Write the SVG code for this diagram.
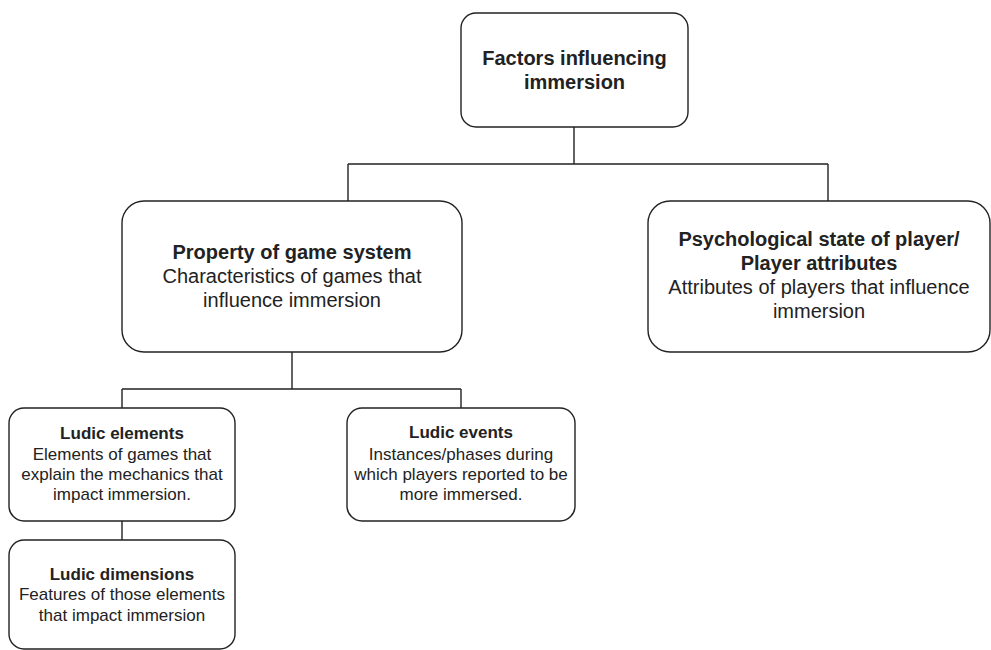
<svg xmlns="http://www.w3.org/2000/svg" width="991" height="650" viewBox="0 0 991 650">
<style>
.box{fill:#fff;stroke:#222;stroke-width:1.4}
.conn{fill:none;stroke:#222;stroke-width:1.4}
text{font-family:"Liberation Sans",Arial,sans-serif;fill:#222;text-anchor:middle}
.big{font-size:20px}
.small{font-size:17px}
.b{font-weight:bold}
</style>
<rect width="991" height="650" fill="#fff"/>
<g id="connectors">
<path class="conn" d="M574 127V164M348 164H828M348 164V201M828 164V201"/>
<path class="conn" d="M292 352V389M122 389H461M122 389V408M461 389V408"/>
<path class="conn" d="M122 521V540"/>
</g>
<g id="factors">
<rect class="box" x="461" y="13" width="227" height="114" rx="15"/>
<text class="big b" x="574.5" y="65">Factors influencing</text>
<text class="big b" x="574.5" y="89">immersion</text>
</g>
<g id="property">
<rect class="box" x="122" y="201" width="340" height="151" rx="22"/>
<text class="big b" x="292" y="259">Property of game system</text>
<text class="big" x="292" y="283">Characteristics of games that</text>
<text class="big" x="292" y="307">influence immersion</text>
</g>
<g id="psych">
<rect class="box" x="648" y="201" width="342" height="151" rx="22"/>
<text class="big b" x="819" y="246">Psychological state of player/</text>
<text class="big b" x="819" y="270">Player attributes</text>
<text class="big" x="819" y="294">Attributes of players that influence</text>
<text class="big" x="819" y="318">immersion</text>
</g>
<g id="ludic-elements">
<rect class="box" x="9" y="408" width="226" height="113" rx="15"/>
<text class="small b" x="122" y="439">Ludic elements</text>
<text class="small" x="122" y="460">Elements of games that</text>
<text class="small" x="122" y="480">explain the mechanics that</text>
<text class="small" x="122" y="500">impact immersion.</text>
</g>
<g id="ludic-events">
<rect class="box" x="347" y="408" width="228" height="113" rx="15"/>
<text class="small b" x="461" y="438">Ludic events</text>
<text class="small" x="461" y="460">Instances/phases during</text>
<text class="small" x="461" y="480">which players reported to be</text>
<text class="small" x="461" y="500">more immersed.</text>
</g>
<g id="ludic-dimensions">
<rect class="box" x="9" y="540" width="226" height="109" rx="15"/>
<text class="small b" x="122" y="580">Ludic dimensions</text>
<text class="small" x="122" y="600">Features of those elements</text>
<text class="small" x="122" y="621">that impact immersion</text>
</g>
</svg>
